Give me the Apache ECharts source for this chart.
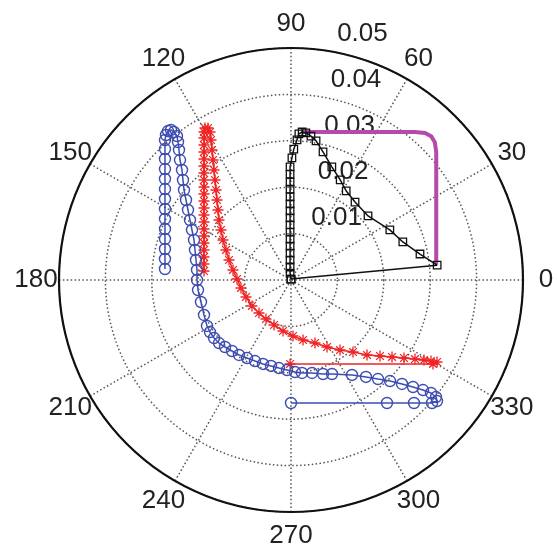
<!DOCTYPE html>
<html>
<head>
<meta charset="utf-8">
<script src="https://cdn.jsdelivr.net/npm/echarts@6/dist/echarts.min.js"></script>
<style>
html,body{margin:0;padding:0;background:#fff;}
#chart{width:558px;height:545px;}
</style>
</head>
<body>
<div id="chart"></div>
<script>
// Angle tick labels (degrees) and radial tick labels
const angleTicks = [0, 30, 60, 90, 120, 150, 180, 210, 240, 270, 300, 330];
const radiusTicks = [0.01, 0.02, 0.03, 0.04, 0.05];

// Series values as [x, y] in the data units of the polar radius
const blueCircles = [
  [-0.02716, 0.00237], [-0.02716, 0.00453], [-0.02716, 0.00668], [-0.02716, 0.00884],
  [-0.02716, 0.01099], [-0.02716, 0.01315], [-0.02716, 0.01530], [-0.02716, 0.01746],
  [-0.02716, 0.01961], [-0.02716, 0.02177], [-0.02716, 0.02392], [-0.02716, 0.02608],
  [-0.02716, 0.02823], [-0.02716, 0.03017], [-0.02694, 0.03125], [-0.02651, 0.03211],
  [-0.02586, 0.03233], [-0.02522, 0.03190], [-0.02457, 0.03103], [-0.02435, 0.02974],
  [-0.02414, 0.02802], [-0.02392, 0.02586], [-0.02349, 0.02371], [-0.02328, 0.02155],
  [-0.02306, 0.01940], [-0.02263, 0.01724], [-0.02220, 0.01509], [-0.02177, 0.01293],
  [-0.02134, 0.01078], [-0.02090, 0.00862], [-0.02069, 0.00647], [-0.02047, 0.00431],
  [-0.02026, 0.00216], [-0.02026, 0.00000], [-0.02004, -0.00216], [-0.01940, -0.00474],
  [-0.01875, -0.00754], [-0.01810, -0.00991], [-0.01746, -0.01121], [-0.01659, -0.01250],
  [-0.01552, -0.01358], [-0.01422, -0.01444], [-0.01272, -0.01530], [-0.01121, -0.01616],
  [-0.00948, -0.01681], [-0.00776, -0.01746], [-0.00603, -0.01810], [-0.00431, -0.01853],
  [-0.00259, -0.01897], [-0.00086, -0.01940], [0.00086, -0.01983], [0.00237, -0.02004],
  [0.00453, -0.02004], [0.00690, -0.02026], [0.00884, -0.02026], [0.01315, -0.02047],
  [0.01616, -0.02090], [0.01875, -0.02134], [0.02134, -0.02177], [0.02392, -0.02241],
  [0.02629, -0.02306], [0.02845, -0.02371], [0.03017, -0.02435], [0.03125, -0.02522],
  [0.03147, -0.02608], [0.03039, -0.02651], [0.02651, -0.02651], [0.02069, -0.02651],
  [0.00000, -0.02651]
];

const redStars = [
  [-0.01875, 0.00194], [-0.01875, 0.00345], [-0.01875, 0.00496], [-0.01875, 0.00647],
  [-0.01875, 0.00797], [-0.01875, 0.00948], [-0.01875, 0.01099], [-0.01875, 0.01250],
  [-0.01875, 0.01401], [-0.01875, 0.01552], [-0.01875, 0.01703], [-0.01875, 0.01853],
  [-0.01875, 0.02004], [-0.01875, 0.02155], [-0.01875, 0.02306], [-0.01875, 0.02457],
  [-0.01875, 0.02608], [-0.01875, 0.02759], [-0.01875, 0.02909], [-0.01875, 0.03060],
  [-0.01875, 0.03190], [-0.01853, 0.03276], [-0.01789, 0.03276], [-0.01746, 0.03190],
  [-0.01724, 0.03017], [-0.01703, 0.02802], [-0.01681, 0.02586], [-0.01659, 0.02371],
  [-0.01638, 0.02155], [-0.01616, 0.01940], [-0.01595, 0.01724], [-0.01573, 0.01509],
  [-0.01552, 0.01293], [-0.01509, 0.01078], [-0.01466, 0.00862], [-0.01401, 0.00647],
  [-0.01336, 0.00431], [-0.01250, 0.00216], [-0.01164, 0.00022], [-0.01078, -0.00172],
  [-0.00970, -0.00366], [-0.00841, -0.00560], [-0.00690, -0.00711], [-0.00539, -0.00841],
  [-0.00366, -0.00970], [-0.00172, -0.01099], [0.00043, -0.01207], [0.00259, -0.01293],
  [0.00517, -0.01358], [0.00776, -0.01444], [0.01056, -0.01509], [0.01336, -0.01552],
  [0.01638, -0.01616], [0.01918, -0.01638], [0.02177, -0.01659], [0.02435, -0.01681],
  [0.02672, -0.01703], [0.02866, -0.01724], [0.03017, -0.01746], [0.03147, -0.01767],
  [0.03060, -0.01810], [-0.00020, -0.01810]
];

const blackSquares = [
  [0.00000, 0.00020], [-0.00020, 0.00150], [-0.00020, 0.00280], [-0.00020, 0.00430],
  [-0.00020, 0.00580], [-0.00020, 0.00730], [-0.00020, 0.00880], [-0.00020, 0.01030],
  [-0.00020, 0.01190], [-0.00020, 0.01340], [-0.00020, 0.01490], [-0.00020, 0.01640],
  [-0.00020, 0.01790], [-0.00020, 0.01960], [-0.00020, 0.02110], [-0.00020, 0.02280],
  [-0.00020, 0.02440], [0.00020, 0.02630], [0.00060, 0.02820], [0.00130, 0.03020],
  [0.00170, 0.03150], [0.00240, 0.03190], [0.00320, 0.03170], [0.00430, 0.03100],
  [0.00540, 0.03000], [0.00690, 0.02760], [0.00880, 0.02440], [0.01060, 0.02160],
  [0.01190, 0.01920], [0.01380, 0.01680], [0.01660, 0.01380], [0.02130, 0.01080],
  [0.02410, 0.00820], [0.02780, 0.00560], [0.03150, 0.00320], [0.00000, 0.00020]
];

const magentaLine = [
  [0.00260, 0.03190], [0.02670, 0.03190], [0.02890, 0.03170], [0.03020, 0.03100],
  [0.03100, 0.02970], [0.03130, 0.02760], [0.03130, 0.00340]
];

const FONT = 'Liberation Sans, Arial, Helvetica, sans-serif';
const DOT = { color: '#555', width: 1.5, type: [1.5, 2.4] };
const BLUE = '#3d4db0', RED = '#f02424', MAG = '#b54aa9';
const asterisk = 'path://M-5,-0.6L5,-0.6L5,0.6L-5,0.6Z M-0.6,-5L0.6,-5L0.6,5L-0.6,5Z M-3.08,-3.92L3.92,3.08L3.08,3.92L-3.92,-3.08Z M-3.92,3.08L3.08,-3.92L3.92,-3.08L-3.08,3.92Z';

// label boxes so that each angle label is centred 1.1 radii from the centre
const lab = (w, h) => ({ width: w, height: h, lineHeight: h, align: 'center', verticalAlign: 'middle',
                          fontSize: 26, color: '#222', fontFamily: FONT });
function angleClass(v) {
  const m = v % 180;
  if (m === 0) return 'h';
  if (m === 90) return 'v';
  if (m === 30 || m === 150) return 'd1';
  return 'd2';
}

const chart = echarts.init(document.getElementById('chart'), null, { renderer: 'canvas' });
chart.setOption({
  animation: false,
  backgroundColor: '#fff',
  polar: [
    { center: [291, 280], radius: 232 },
    { center: [291, 280], radius: 232 }
  ],
  angleAxis: [
    {
      polarIndex: 0, type: 'value', min: 0, max: 360, interval: 30,
      startAngle: 0, clockwise: false,
      axisLine: { show: true, lineStyle: { color: '#111', width: 2.2 } },
      axisTick: { show: false },
      axisLabel: {
        show: true, margin: -1, fontSize: 26, color: '#222', fontFamily: FONT,
        align: 'center', verticalAlign: 'middle',
        formatter: v => (angleTicks.indexOf(v) >= 0 ? '{' + angleClass(v) + '|' + v + '}' : ''),
        rich: {
          h: lab(48, 28),
          v: lab(50, 50),
          d1: lab(41.6, 24),
          d2: lab(24, 41.6)
        }
      },
      splitLine: { show: true, lineStyle: DOT }
    },
    {
      polarIndex: 1, type: 'value', min: 0, max: 360, startAngle: 82, clockwise: false,
      axisLine: { show: false }, axisTick: { show: false }, axisLabel: { show: false },
      splitLine: { show: false }
    }
  ],
  radiusAxis: [
    {
      polarIndex: 0, type: 'value', min: 0, max: 0.05, interval: 0.01,
      axisLine: { show: false }, axisTick: { show: false }, axisLabel: { show: false },
      splitLine: { show: true, lineStyle: DOT }
    },
    {
      polarIndex: 1, type: 'value', min: 0, max: 0.05, interval: 0.01,
      axisLine: { show: false }, axisTick: { show: false }, splitLine: { show: false },
      axisLabel: {
        show: true, fontSize: 26, color: '#222', fontFamily: FONT, margin: -14,
        align: 'left', verticalAlign: 'bottom', padding: [0, 0, 5, 0],
        formatter: v => (radiusTicks.some(t => Math.abs(t - v) < 1e-9) ? v.toFixed(2) : '')
      }
    }
  ],
  grid: { left: 59, top: 48, width: 464, height: 464 },
  xAxis: { type: 'value', min: -0.05, max: 0.05, show: false },
  yAxis: { type: 'value', min: -0.05, max: 0.05, show: false },
  series: [
    {
      type: 'line', coordinateSystem: 'cartesian2d', data: magentaLine,
      symbol: 'none', lineStyle: { color: MAG, width: 4 }, z: 2
    },
    {
      type: 'line', coordinateSystem: 'cartesian2d', data: blackSquares,
      symbol: 'rect', symbolSize: 7.5, showAllSymbol: true,
      itemStyle: { color: 'rgba(255,255,255,0)', borderColor: '#111', borderWidth: 1.3 },
      lineStyle: { color: '#111', width: 1.5 }, z: 3
    },
    {
      type: 'line', coordinateSystem: 'cartesian2d', data: redStars,
      symbol: asterisk, symbolSize: 11, showAllSymbol: true,
      itemStyle: { color: RED },
      lineStyle: { color: RED, width: 1.5 }, z: 3
    },
    {
      type: 'line', coordinateSystem: 'cartesian2d', data: blueCircles,
      symbol: 'circle', symbolSize: 11, showAllSymbol: true,
      itemStyle: { color: 'rgba(255,255,255,0)', borderColor: BLUE, borderWidth: 1.4 },
      lineStyle: { color: BLUE, width: 1.5 }, z: 3
    }
  ]
});
</script>
</body>
</html>
